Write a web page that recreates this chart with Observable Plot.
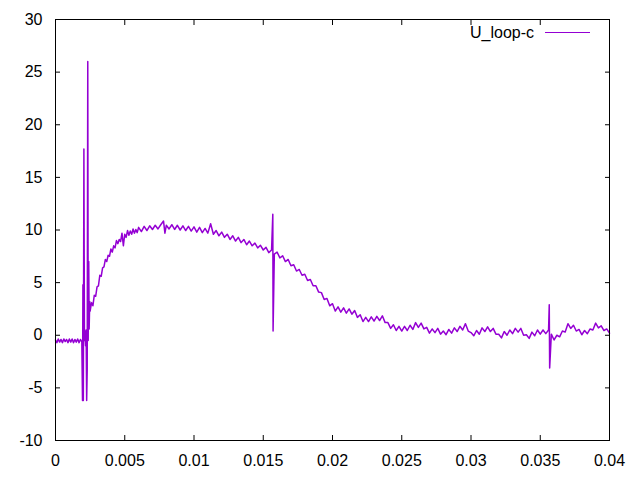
<!DOCTYPE html>
<html>
<head>
<meta charset="utf-8">
<script src="https://cdn.jsdelivr.net/npm/d3@7"></script>
<script src="https://cdn.jsdelivr.net/npm/@observablehq/plot@0.6"></script>
<style>
  html, body { margin: 0; padding: 0; background: #fff; }
  #wrap { position: relative; width: 640px; height: 480px; }
  #legend { position: absolute; left: 0; top: 0; width: 640px; height: 60px; pointer-events: none;
            font-family: "Liberation Sans", Arial, sans-serif; font-size: 16px; color: #000; }
  #legend .lbl { position: absolute; right: 106px; top: 23px; line-height: 19px; }
  #legend .swatch { position: absolute; left: 545px; top: 32px; width: 45px; height: 1px; background: #9400d3; }
</style>
</head>
<body>
<div id="wrap">
  <div id="chart"></div>
  <div id="legend"><span class="lbl"></span><span class="swatch"></span></div>
</div>
<script>
const seriesName = "U_loop-c";
const lineColor = "#9400d3";
const xTicks = [0, 0.005, 0.01, 0.015, 0.02, 0.025, 0.03, 0.035, 0.04];
const yTicks = [-10, -5, 0, 5, 10, 15, 20, 25, 30];

// [time (s), U_loop-c]
const uLoopC = [
  [0.0000,-0.45],[0.0001,-0.7],[0.0002,-0.35],[0.0003,-0.65],[0.0004,-0.4],[0.0005,-0.7],
  [0.0006,-0.35],[0.0007,-0.6],[0.0008,-0.4],[0.0009,-0.7],[0.0010,-0.35],[0.0011,-0.65],
  [0.0012,-0.35],[0.0013,-0.7],[0.0014,-0.4],[0.0015,-0.65],[0.0016,-0.35],[0.0017,-0.7],
  [0.0018,-0.4],[0.0019,-0.6],
  [0.00195,-6.2],[0.00198,4.8],[0.00201,-6.2],[0.00205,17.7],[0.00209,-0.5],[0.00213,0.4],
  [0.00217,-1.0],[0.00221,0.5],[0.00225,-6.2],[0.00229,-3.2],[0.00233,26.0],[0.00236,-0.5],
  [0.0024,7.0],[0.00243,0.6],[0.00247,3.2],[0.0025,2.3],[0.0026,3.1],[0.0027,2.8],
  [0.0028,3.8],[0.0029,3.7],[0.0030,4.6],[0.0031,4.7],[0.0032,5.7],[0.0033,5.6],[0.0034,6.4],
  [0.0035,6.5],[0.0036,7.2],[0.0037,7.0],[0.0038,7.6],[0.0039,7.5],
  [0.0040,8.2],[0.0041,7.9],[0.0042,8.5],[0.0043,8.3],[0.0044,9.0],[0.0045,8.7],[0.0046,9.1],
  [0.0047,8.9],[0.0048,9.7],[0.0049,8.5],
  [0.0050,9.6],[0.0051,9.3],[0.0052,9.95],[0.0053,9.5],[0.0054,9.9],[0.0055,9.6],[0.0056,10.1],
  [0.0057,9.7],[0.0058,10.05],[0.0059,9.75],[0.0060,10.25],
  [0.0062,9.85],[0.0064,10.35],[0.0066,9.95],[0.0068,10.4],[0.0070,10.05],[0.0072,10.45],
  [0.0074,10.1],[0.0076,10.5],[0.0078,10.85],[0.0079,9.7],[0.0080,10.45],[0.0082,10.1],
  [0.0084,10.5],[0.0086,10.05],[0.0088,10.45],[0.0090,10.0],[0.0092,10.4],[0.0094,9.95],
  [0.0096,10.35],[0.0098,9.9],[0.0100,10.3],[0.0102,9.8],[0.0104,10.25],[0.0106,9.75],
  [0.0108,10.15],[0.0110,9.7],[0.0112,10.6],[0.0114,9.6],[0.0116,9.95],[0.0118,9.45],
  [0.0120,9.8],[0.0122,9.3],[0.0124,9.6],[0.0126,9.1],[0.0128,9.45],[0.0130,8.95],
  [0.0132,9.3],[0.0134,8.8],[0.0136,9.1],[0.0138,8.6],[0.0140,8.95],[0.0142,8.5],
  [0.0144,8.75],[0.0146,8.3],[0.0148,8.55],[0.0150,8.1],[0.0152,8.35],[0.0154,7.85],
  [0.0156,8.1],[0.01569,11.5],[0.01571,0.4],[0.0158,7.7],[0.0160,7.9],[0.0162,7.35],
  [0.0164,7.55],[0.0166,7.0],[0.0168,7.2],[0.0170,6.6],[0.0172,6.7],[0.0174,6.1],
  [0.0176,6.25],[0.0178,5.7],[0.0180,5.8],[0.0182,5.2],[0.0184,5.3],[0.0186,4.7],
  [0.0188,4.7],[0.0190,4.1],[0.0192,4.05],[0.0194,3.4],[0.0196,3.5],[0.0198,2.8],
  [0.0200,3.0],[0.0202,2.3],[0.0204,2.7],[0.0206,2.2],[0.0208,2.6],[0.0210,2.1],
  [0.0212,2.5],[0.0214,2.0],[0.0216,2.35],[0.0218,1.7],[0.0220,1.95],[0.0222,1.3],
  [0.0224,1.7],[0.0226,1.3],[0.0228,1.75],[0.0230,1.35],[0.0232,1.8],[0.0234,1.4],
  [0.0236,1.85],[0.0238,1.2],[0.0240,1.2],[0.0242,0.65],[0.0244,1.0],[0.0246,0.45],
  [0.0248,0.85],[0.0250,0.4],[0.0252,0.85],[0.0254,0.45],[0.0256,0.95],[0.0258,0.55],
  [0.0260,1.2],[0.0262,0.75],[0.0264,1.15],[0.0266,0.6],[0.0268,0.75],[0.0270,0.2],
  [0.0272,0.6],[0.0274,0.25],[0.0276,0.65],[0.0278,0.1],[0.0280,0.4],[0.0282,0.05],
  [0.0284,0.55],[0.0286,0.2],[0.0288,0.7],[0.0290,0.35],[0.0292,0.85],[0.0294,0.5],
  [0.0296,1.1],[0.0298,0.4],[0.0300,0.25],[0.0302,-0.05],[0.0304,0.45],[0.0306,0.1],
  [0.0308,0.7],[0.0310,0.35],[0.0312,0.8],[0.0314,0.35],[0.0316,0.65],[0.0318,0.1],
  [0.0320,0.1],[0.0322,-0.25],[0.0324,0.35],[0.0326,0.0],[0.0328,0.5],[0.0330,0.15],
  [0.0332,0.65],[0.0334,0.3],[0.0336,0.65],[0.0338,0.0],[0.0340,0.05],[0.0342,-0.3],
  [0.0344,0.3],[0.0346,-0.05],[0.0348,0.5],[0.0350,0.1],[0.0352,0.5],[0.0354,0.15],
  [0.0356,0.5],[0.03565,2.9],[0.03568,-3.1],[0.0358,0.1],[0.0360,-0.45],[0.0362,0.0],
  [0.0364,-0.15],[0.0366,0.4],[0.0368,0.3],[0.0370,1.1],[0.0372,0.65],[0.0374,0.95],
  [0.0376,0.4],[0.0378,0.55],[0.0380,0.05],[0.0382,0.45],[0.0384,0.15],[0.0386,0.6],
  [0.0388,0.5],[0.0390,1.15],[0.0392,0.7],[0.0394,0.9],[0.0396,0.45],[0.0398,0.6],
  [0.0400,0.2]
];

const data = uLoopC.map(([t, u]) => ({t, u}));
const fmt = d => String(d);
const blank = () => "";

const chart = Plot.plot({
  width: 640,
  height: 480,
  marginLeft: 55,
  marginRight: 31,
  marginTop: 19,
  marginBottom: 40,
  style: {fontFamily: "Liberation Sans, Arial, sans-serif", fontSize: "16px", color: "#000", background: "#fff"},
  x: {domain: [0, 0.04]},
  y: {domain: [-10, 30]},
  marks: [
    Plot.line(data, {x: "t", y: "u", stroke: lineColor, strokeWidth: 1.5}),
    Plot.axisX(xTicks, {anchor: "bottom", tickSize: -5, tickFormat: blank, label: null}),
    Plot.axisX(xTicks, {anchor: "top", tickSize: -5, tickFormat: blank, label: null}),
    Plot.axisY(yTicks, {anchor: "left", tickSize: -5, tickFormat: blank, label: null}),
    Plot.axisY(yTicks, {anchor: "right", tickSize: -5, tickFormat: blank, label: null}),
    Plot.axisX(xTicks, {anchor: "bottom", tickSize: 0, tickPadding: 14, tickFormat: fmt, label: null}),
    Plot.axisY(yTicks, {anchor: "left", tickSize: 0, tickPadding: 13, tickFormat: fmt, label: null}),
    Plot.frame({stroke: "#000", strokeWidth: 1})
  ]
});
document.getElementById("chart").appendChild(chart);
document.querySelector("#legend .lbl").textContent = seriesName;
document.querySelector("#legend .swatch").style.background = lineColor;
</script>
</body>
</html>
